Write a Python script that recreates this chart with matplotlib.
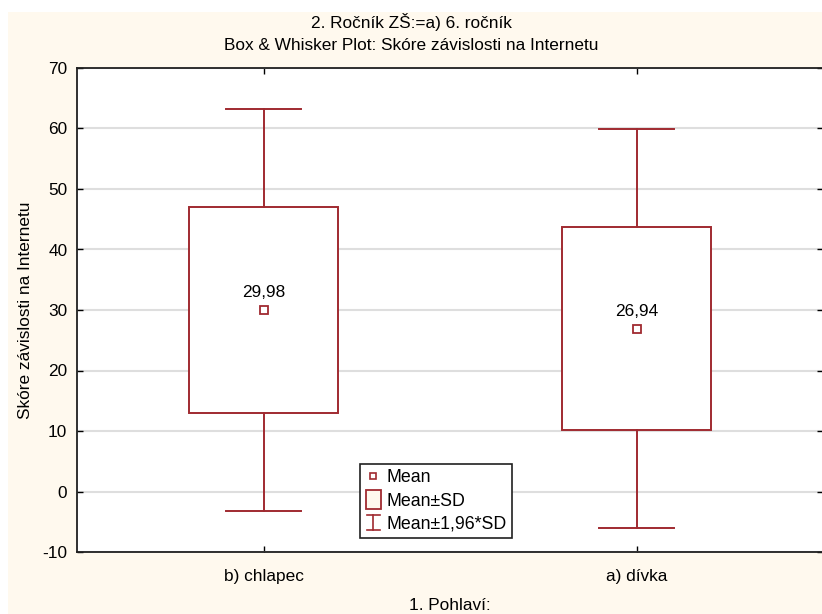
import matplotlib
matplotlib.use("Agg")
import matplotlib.pyplot as plt
from matplotlib.patches import Rectangle
from matplotlib.lines import Line2D
from matplotlib.legend_handler import HandlerBase

plt.rcParams['font.family'] = ['Liberation Sans', 'DejaVu Sans']
plt.rcParams['axes.unicode_minus'] = False

# ---- data ----
categories = ["b) chlapec", "a) dívka"]
means = [29.98, 26.94]
box_low = [12.98, 10.14]     # Mean - SD
box_high = [46.98, 43.74]    # Mean + SD
whisk_low = [-3.3, -6.0]     # Mean - 1.96*SD
whisk_high = [63.3, 59.9]    # Mean + 1.96*SD
mean_labels = ["29,98", "26,94"]
yticks = [-10, 0, 10, 20, 30, 40, 50, 60, 70]

RED = '#A02A30'
CREAM = '#FFF9EE'
FS = 12.4

fig = plt.figure(figsize=(8.22, 6.14), dpi=100)
fig.patch.set_facecolor('white')
W, H = 822, 614
# cream panel
fig.patches.append(Rectangle((8 / W, 0), 1, 1 - 12 / H, transform=fig.transFigure,
                             facecolor=CREAM, edgecolor='none', zorder=-10))

ax = fig.add_axes([77 / W, (H - 552) / H, (823 - 77) / W, (552 - 68) / H])
ax.set_facecolor('white')
ax.set_xlim(0.5, 2.5)
ax.set_ylim(-10, 70)
ax.set_yticks(yticks)
ax.set_xticks([1, 2])
ax.set_xticklabels(categories)
ax.tick_params(axis='both', direction='in', length=4, width=1, labelsize=FS,
               top=True, right=True, colors='black')
ax.tick_params(axis='x', pad=12)
ax.tick_params(axis='y', pad=7)
for s in ax.spines.values():
    s.set_linewidth(1.3)
    s.set_color('#202020')
ax.yaxis.grid(True, color='#dedede', linewidth=1.5)
ax.set_axisbelow(True)

bw = 0.4
cw = 0.2
lw = 1.4
for i in range(len(categories)):
    x = i + 1
    ax.add_patch(Rectangle((x - bw / 2, box_low[i]), bw, box_high[i] - box_low[i],
                           facecolor='white', edgecolor=RED, linewidth=lw, zorder=3))
    ax.plot([x, x], [box_high[i], whisk_high[i]], color=RED, lw=lw, zorder=3)
    ax.plot([x, x], [box_low[i], whisk_low[i]], color=RED, lw=lw, zorder=3)
    ax.plot([x - cw / 2, x + cw / 2], [whisk_high[i]] * 2, color=RED, lw=lw, zorder=3)
    ax.plot([x - cw / 2, x + cw / 2], [whisk_low[i]] * 2, color=RED, lw=lw, zorder=3)
    ax.plot([x], [means[i]], marker='s', ms=6, mfc='white', mec=RED, mew=1.3, zorder=4)
    ax.annotate(mean_labels[i], (x, means[i]), xytext=(0, 7), textcoords='offset points',
                ha='center', va='bottom', fontsize=FS, zorder=5)

ax.set_ylabel("Skóre závislosti na Internetu", fontsize=FS, labelpad=7)
ax.set_xlabel("1. Pohlaví:", fontsize=FS, labelpad=10)

fig.text(411 / W, 1 - 22 / H, "2. Ročník ZŠ:=a) 6. ročník", ha='center', va='center', fontsize=FS)
fig.text(411 / W, 1 - 45 / H, "Box & Whisker Plot: Skóre závislosti na Internetu",
         ha='center', va='center', fontsize=FS)


class MeanHandle:
    pass


class BoxHandle:
    pass


class IBeamHandle:
    pass


class HMean(HandlerBase):
    def create_artists(self, legend, orig, xd, yd, w, h, fs, trans):
        cx = w / 2 - xd
        cy = h / 2 - yd
        return [Line2D([cx], [cy], marker='s', ms=5, mfc='white', mec=RED, mew=1.2,
                       linestyle='none', transform=trans)]


class HBox(HandlerBase):
    def create_artists(self, legend, orig, xd, yd, w, h, fs, trans):
        bwid = 11
        bh = 14
        return [Rectangle((w / 2 - xd - bwid / 2, h / 2 - yd - bh / 2), bwid, bh,
                          facecolor=CREAM, edgecolor=RED, lw=1.3, transform=trans)]


class HIBeam(HandlerBase):
    def create_artists(self, legend, orig, xd, yd, w, h, fs, trans):
        cx = w / 2 - xd
        cy = h / 2 - yd
        hh = 5.5
        c = 4.5
        return [Line2D([cx, cx], [cy - hh, cy + hh], color=RED, lw=1.2, transform=trans),
                Line2D([cx - c, cx + c], [cy + hh] * 2, color=RED, lw=1.2, transform=trans),
                Line2D([cx - c, cx + c], [cy - hh] * 2, color=RED, lw=1.2, transform=trans)]


leg = ax.legend([MeanHandle(), BoxHandle(), IBeamHandle()],
                ["Mean", "Mean±SD", "Mean±1,96*SD"],
                handler_map={MeanHandle: HMean(), BoxHandle: HBox(), IBeamHandle: HIBeam()},
                loc='upper left', bbox_to_anchor=((360 - 77) / (823 - 77), (552 - 464) / (552 - 68)),
                fontsize=FS + 0.4, frameon=True, fancybox=False, framealpha=1, edgecolor='#202020',
                handlelength=0.9, handletextpad=0.3, borderpad=0.3, labelspacing=0.35,
                borderaxespad=0)
leg.get_frame().set_linewidth(1.2)
leg.set_zorder(10)

fig.savefig("out.png", dpi=100, facecolor=fig.get_facecolor())
